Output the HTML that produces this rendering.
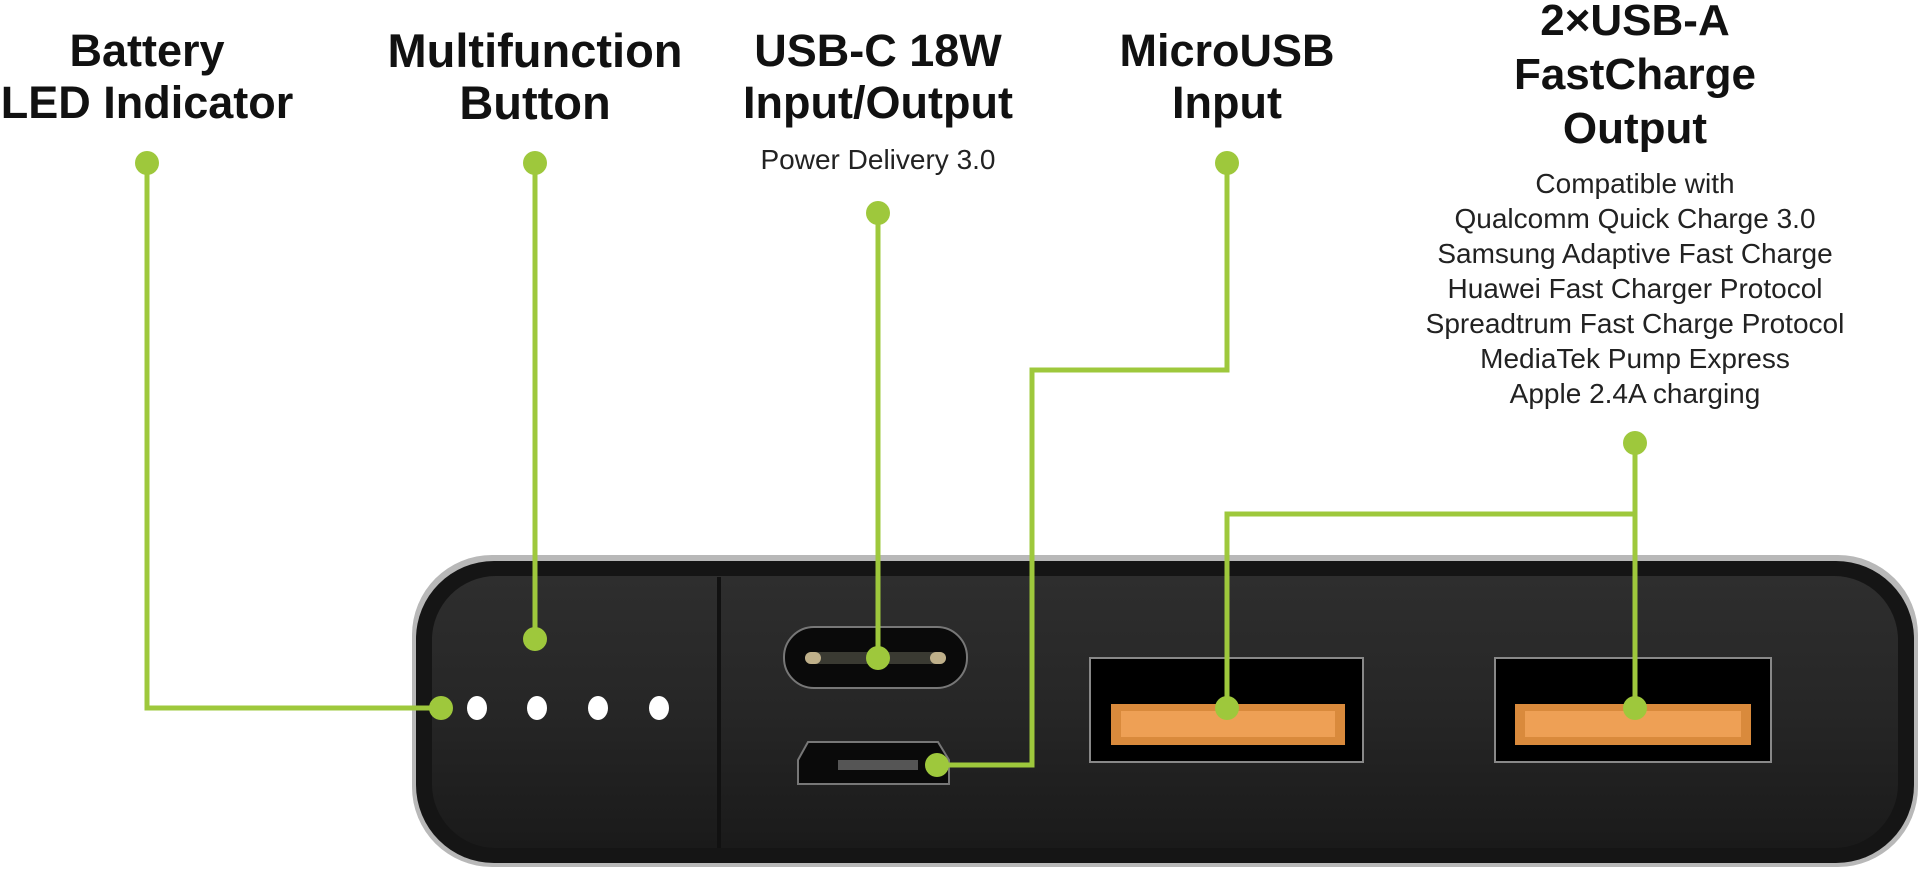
<!DOCTYPE html>
<html><head><meta charset="utf-8"><style>
html,body{margin:0;padding:0;background:#fff;width:1920px;height:870px;overflow:hidden;position:relative;font-family:"Liberation Sans",sans-serif}
.h{position:absolute;font-weight:bold;font-size:45px;line-height:52px;text-align:center;color:#111;transform:translateX(-50%);white-space:nowrap}
.s{position:absolute;font-size:28px;line-height:35px;text-align:center;color:#222;transform:translateX(-50%);white-space:nowrap}
</style></head><body>
<svg width="1920" height="870" style="position:absolute;left:0;top:0">
<defs>
<linearGradient id="bd" x1="0" y1="0" x2="0" y2="1"><stop offset="0" stop-color="#2e2e2e"/><stop offset="0.5" stop-color="#262626"/><stop offset="1" stop-color="#1a1a1a"/></linearGradient>
</defs>
<rect x="412" y="555" width="1506" height="312" rx="80" fill="#b8b8b8"/>
<rect x="416" y="561" width="1498" height="302" rx="78" fill="#151515"/>
<rect x="432" y="576" width="1466" height="272" rx="64" fill="url(#bd)"/>
<line x1="719" y1="577" x2="719" y2="848" stroke="#111" stroke-width="4"/>
<rect x="784" y="627" width="183" height="61" rx="30" fill="#0a0a0a" stroke="#777" stroke-width="2"/>
<rect x="805" y="652" width="141" height="12" rx="6" fill="#3a3a32"/>
<rect x="805" y="652" width="16" height="12" rx="6" fill="#bfb08a"/><rect x="930" y="652" width="16" height="12" rx="6" fill="#bfb08a"/>
<path d="M808 742 L938 742 L949 760 L949 784 L798 784 L798 760 Z" fill="#0a0a0a" stroke="#777" stroke-width="2"/>
<rect x="838" y="760" width="80" height="10" fill="#555"/>
<rect x="1090" y="658" width="273" height="104" fill="#000" stroke="#888" stroke-width="2"/>
<rect x="1495" y="658" width="276" height="104" fill="#000" stroke="#888" stroke-width="2"/>
<rect x="1111" y="704" width="234" height="41" fill="#d98a3c"/>
<rect x="1121" y="711" width="214" height="26" fill="#eea055"/>
<rect x="1515" y="704" width="236" height="41" fill="#d98a3c"/>
<rect x="1525" y="711" width="216" height="26" fill="#eea055"/>
<g fill="#fff"><ellipse cx="477" cy="708" rx="10" ry="12"/><ellipse cx="537" cy="708" rx="10" ry="12"/><ellipse cx="598" cy="708" rx="10" ry="12"/><ellipse cx="659" cy="708" rx="10" ry="12"/></g>
<g stroke="#9ec83c" stroke-width="5" fill="none">
<polyline points="147,163 147,708 441,708"/>
<polyline points="535,163 535,639"/>
<polyline points="878,213 878,658"/>
<polyline points="1227,163 1227,370 1032,370 1032,765 937,765"/>
<polyline points="1635,443 1635,514"/>
<polyline points="1227,708 1227,514 1635,514 1635,708"/>
</g>
<g fill="#9ec83c">
<circle cx="147" cy="163" r="12"/><circle cx="441" cy="708" r="12"/>
<circle cx="535" cy="163" r="12"/><circle cx="535" cy="639" r="12"/>
<circle cx="878" cy="213" r="12"/><circle cx="878" cy="658" r="12"/>
<circle cx="1227" cy="163" r="12"/><circle cx="937" cy="765" r="12"/>
<circle cx="1635" cy="443" r="12"/><circle cx="1227" cy="708" r="12"/><circle cx="1635" cy="708" r="12"/>
</g>
</svg>
<div class="h" style="left:147px;top:25px">Battery<br>LED Indicator</div>
<div class="h" style="left:535px;top:25px;font-size:47px">Multifunction<br>Button</div>
<div class="h" style="left:878px;top:25px">USB-C 18W<br>Input/Output</div>
<div class="s" style="left:878px;top:142px">Power Delivery 3.0</div>
<div class="h" style="left:1227px;top:25px">MicroUSB<br>Input</div>
<div class="h" style="left:1635px;top:-6px;font-size:44px;line-height:54px">2×USB-A<br>FastCharge<br>Output</div>
<div class="s" style="left:1635px;top:166px">Compatible with<br>Qualcomm Quick Charge 3.0<br>Samsung Adaptive Fast Charge<br>Huawei Fast Charger Protocol<br>Spreadtrum Fast Charge Protocol<br>MediaTek Pump Express<br>Apple 2.4A charging</div>
</body></html>
